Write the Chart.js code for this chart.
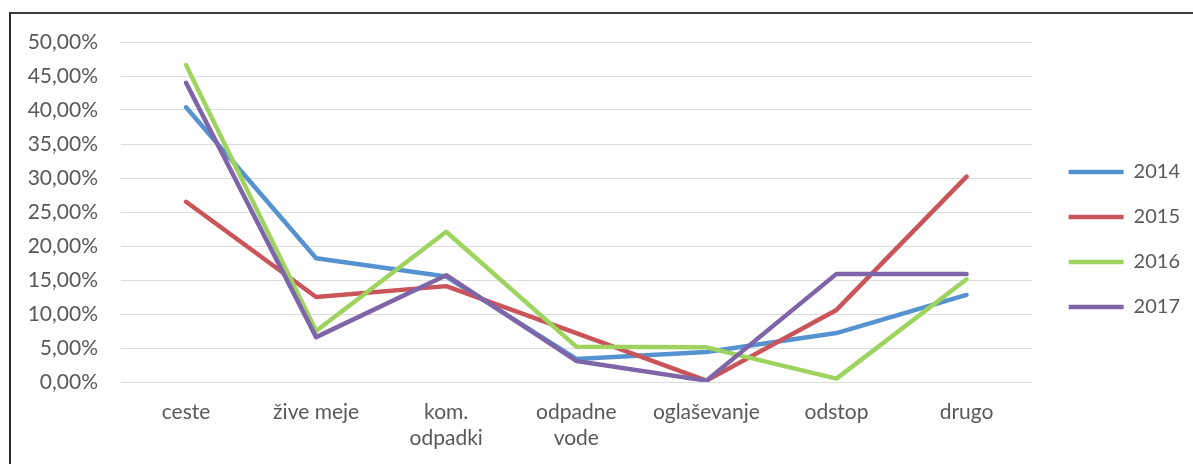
<!DOCTYPE html>
<html>
<head>
<meta charset="utf-8">
<script src="https://cdn.jsdelivr.net/npm/chart.js@4/dist/chart.umd.min.js"></script>
<style>
  html, body { margin: 0; padding: 0; background: #fff; }
  #wrap { position: relative; width: 1193px; height: 464px; }
  #frame { position: absolute; left: 9px; top: 12px; width: 1190px; height: 460px;
           border-left: 2px solid #2a2a2a; border-top: 2px solid #3a3a3a; box-sizing: border-box; pointer-events: none; }
  canvas { display: block; }
</style>
</head>
<body>
<div id="wrap">
  <canvas id="c" width="1193" height="464"></canvas>
  <div id="frame"></div>
</div>
<script>
const categories = ['ceste', 'žive meje', ['kom.', 'odpadki'], ['odpadne', 'vode'], 'oglaševanje', 'odstop', 'drugo'];
const seriesNames = ['2014', '2015', '2016', '2017'];
const values2014 = [40.4, 18.2, 15.5, 3.4, 4.4, 7.2, 12.8];
const values2015 = [26.5, 12.5, 14.1, 7.2, 0.2, 10.6, 30.2];
const values2016 = [46.6, 7.5, 22.1, 5.2, 5.1, 0.5, 15.1];
const values2017 = [44.0, 6.6, 15.7, 3.1, 0.2, 15.9, 15.9];
const yTicksMax = 50;
const yTicksStep = 5;

const colors = ['#5592d0', '#c9545a', '#9fd35f', '#7d65a8'];
const allValues = [values2014, values2015, values2016, values2017];
const FONT = 'Lato, "Open Sans", sans-serif';

const datasets = allValues.map((vals, i) => ({
  label: seriesNames[i],
  data: vals,
  borderColor: colors[i],
  backgroundColor: colors[i],
  borderWidth: 4.5,
  pointRadius: 0,
  pointHoverRadius: 0,
  tension: 0,
  fill: false,
  borderCapStyle: 'round',
  borderJoinStyle: 'round',
  order: 4 - i
}));

const legendShift = {
  id: 'legendShift',
  afterLayout(chart) {
    const lg = chart.legend;
    if (!lg) return;
    const pad = lg.options.labels.padding;
    const dx = chart.chartArea.right + 37 - (lg.left + pad);
    lg.left += dx;
    lg.right += dx;
    lg.top -= 13.5;
    lg.bottom -= 13.5;
  }
};

new Chart(document.getElementById('c'), {
  type: 'line',
  data: { labels: categories, datasets },
  plugins: [legendShift],
  options: {
    responsive: false,
    animation: false,
    devicePixelRatio: 1,
    layout: { padding: { top: 42, left: 0, right: 15, bottom: 0 } },
    plugins: {
      tooltip: { enabled: false },
      legend: {
        position: 'right',
        align: 'center',
        labels: {
          usePointStyle: true,
          pointStyle: 'line',
          pointStyleWidth: 55,
          boxHeight: 4,
          padding: 25,
          color: '#595959',
          font: { family: FONT, size: 20 },
          sort: (a, b) => a.datasetIndex - b.datasetIndex
        }
      }
    },
    scales: {
      x: {
        offset: true,
        grid: { display: false, drawTicks: false },
        border: { display: false },
        afterFit: (s) => { s.height = 82; },
        ticks: {
          color: '#595959',
          font: { family: FONT, size: 21 },
          padding: 18,
          maxRotation: 0,
          autoSkip: false
        }
      },
      y: {
        min: 0,
        max: yTicksMax,
        grid: { color: '#dcdcdc', lineWidth: 1, drawTicks: false },
        border: { display: false },
        afterFit: (s) => { s.width = 121; },
        ticks: {
          stepSize: yTicksStep,
          color: '#595959',
          font: { family: FONT, size: 21 },
          padding: 23,
          callback: (v) => v.toFixed(2).replace('.', ',') + '%'
        }
      }
    }
  }
});
</script>
</body>
</html>
